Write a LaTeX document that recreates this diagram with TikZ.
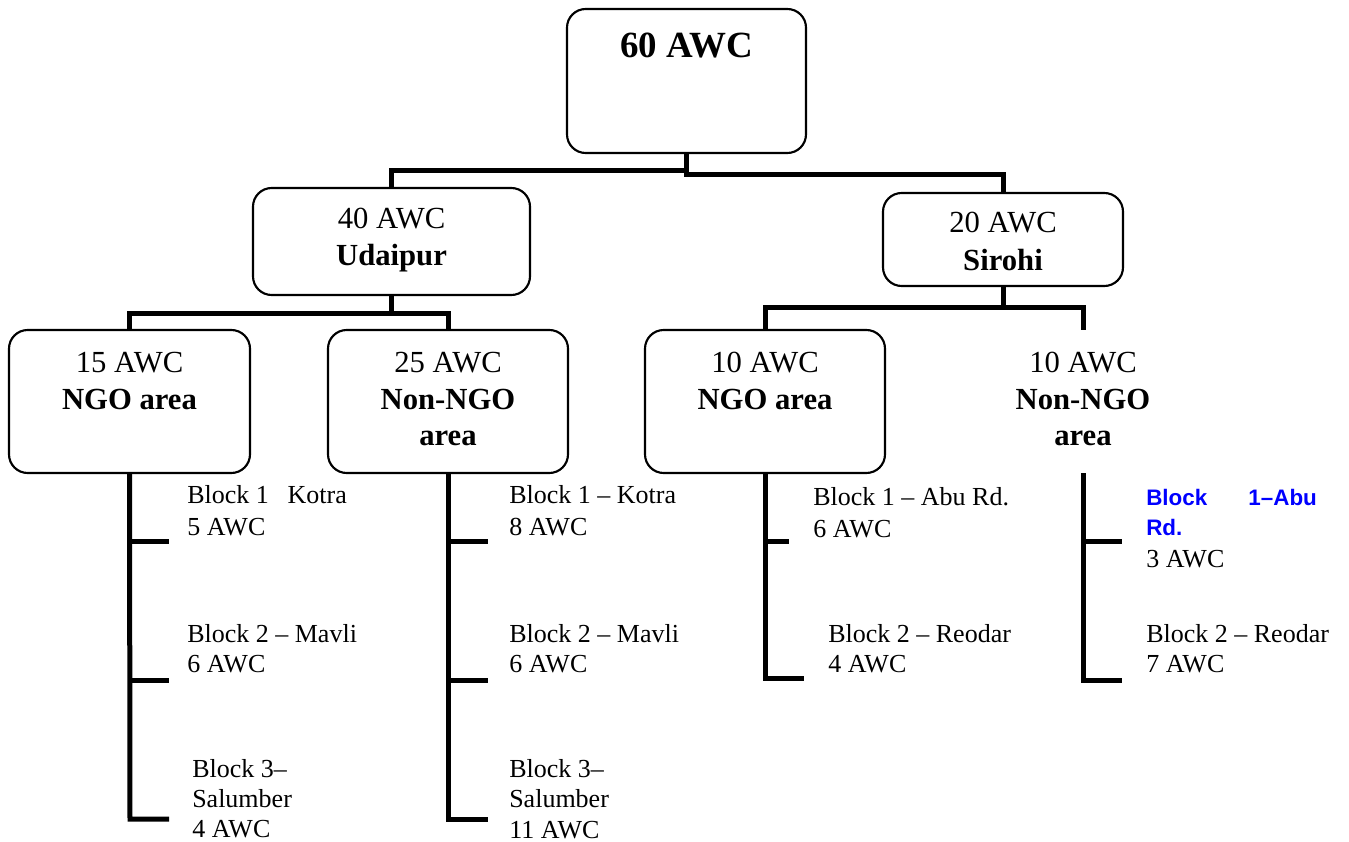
\documentclass[tikz,border=0pt]{standalone}
\usepackage{fontspec}
\setmainfont{Liberation Serif}
\newfontfamily\arialf{Liberation Sans}
\usetikzlibrary{fit}
\definecolor{linkblue}{RGB}{0,0,255}
\begin{document}
\begin{tikzpicture}[x=0.75pt,y=-0.75pt,
  box/.style={draw, line width=1.6pt, rounded corners=14pt, inner sep=0pt, rectangle},
  conn/.style={line width=3.75pt, line join=miter},
  bt/.style={anchor=base, inner sep=0pt, font=\fontsize{23}{28}\selectfont},
  btb/.style={anchor=base, inner sep=0pt, font=\fontsize{23}{28}\selectfont\bfseries},
  lt/.style={anchor=base west, inner sep=0pt, font=\fontsize{19.5}{23}\selectfont},
  bluetext/.style={anchor=base west, inner sep=0pt, text=linkblue, font=\arialf\bfseries\fontsize{16.8}{20}\selectfont}
]
\useasboundingbox (0,0) rectangle (1349,842);

% boxes
\node[box, fit={(567,9) (806,153)}] (top) {};
\node[box, fit={(253,188) (530,295)}] (udaipur) {};
\node[box, fit={(883,193) (1123,286)}] (sirohi) {};
\node[box, fit={(9,330) (250,473)}] (ngoU) {};
\node[box, fit={(328,330) (568,473)}] (nonU) {};
\node[box, fit={(645,330) (885,473)}] (ngoS) {};

% box texts
\node[anchor=base, inner sep=0pt, font=\fontsize{27.7}{32}\selectfont\bfseries] (t60) at (686.5,58) {60 AWC};
\node[bt] (t40) at (391.5,228) {40 AWC};
\node[btb] (tUd) at (391.5,265) {Udaipur};
\node[bt] (t20) at (1003,232) {20 AWC};
\node[btb] (tSi) at (1003,270) {Sirohi};
\node[bt] (t15) at (129.5,372) {15 AWC};
\node[btb] (t15b) at (129.5,409) {NGO area};
\node[bt] (t25) at (448,372) {25 AWC};
\node[btb] (t25b) at (448,409) {Non-NGO};
\node[btb] (t25c) at (448,445) {area};
\node[bt] (t10a) at (765,372) {10 AWC};
\node[btb] (t10ab) at (765,409) {NGO area};
\node[bt] (t10b) at (1083,372) {10 AWC};
\node[btb] (t10bb) at (1083,409) {Non-NGO};
\node[btb] (t10bc) at (1083,445) {area};

% junction coordinates
\coordinate (jTL) at (686.5,170.5);
\coordinate (jTR) at (686.5,174.5);
\coordinate (jU) at (391.5,313);
\coordinate (jS) at (1003,307);
\coordinate (nonStop) at (1083,330);
\coordinate (nonSbot) at (1083,473);

% upper connectors
\draw[conn] (top.south) -- (jTL) -| (udaipur.north);
\draw[conn] (top.south) -- (jTR) -| (sirohi.north);
\draw[conn] (udaipur.south) -- (jU) -| (ngoU.north);
\draw[conn] (jU) -| (nonU.north);
\draw[conn] (sirohi.south) -- (jS) -| (ngoS.north);
\draw[conn] (jS) -| (nonStop);

% column 1 (Udaipur NGO)
\coordinate (c1a) at (130,541); \coordinate (c1ae) at (169,541);
\coordinate (c1b) at (130,680); \coordinate (c1be) at (169,680);
\coordinate (c1c) at (130,819); \coordinate (c1ce) at (169,819);
\draw[conn] (ngoU.south) -- (c1c) -- (c1ce);
\draw[conn] (c1a) -- (c1ae);
\draw[conn] (c1b) -- (c1be);
\node[lt] (l1a) at (187,503) {Block 1\hspace{0.72em}Kotra};
\node[lt] (l1b) at (187,535) {5 AWC};
\node[lt] (l1c) at (187,642) {Block 2 -- Mavli};
\node[lt] (l1d) at (187,672) {6 AWC};
\node[lt] (l1e) at (192,777) {Block 3--};
\node[lt] (l1f) at (192,807) {Salumber};
\node[lt] (l1g) at (192,837) {4 AWC};

% column 2 (Udaipur Non-NGO)
\coordinate (c2a) at (448,541); \coordinate (c2ae) at (488,541);
\coordinate (c2b) at (448,680); \coordinate (c2be) at (488,680);
\coordinate (c2c) at (448,819); \coordinate (c2ce) at (488,819);
\draw[conn] (nonU.south) -- (c2c) -- (c2ce);
\draw[conn] (c2a) -- (c2ae);
\draw[conn] (c2b) -- (c2be);
\node[lt] (l2a) at (509,503) {Block 1 -- Kotra};
\node[lt] (l2b) at (509,535) {8 AWC};
\node[lt] (l2c) at (509,642) {Block 2 -- Mavli};
\node[lt] (l2d) at (509,672) {6 AWC};
\node[lt] (l2e) at (509,777) {Block 3--};
\node[lt] (l2f) at (509,807) {Salumber};
\node[lt] (l2g) at (509,838) {11 AWC};

% column 3 (Sirohi NGO)
\coordinate (c3a) at (765,541); \coordinate (c3ae) at (789,541);
\coordinate (c3b) at (765,678); \coordinate (c3be) at (804,678);
\draw[conn] (ngoS.south) -- (c3b) -- (c3be);
\draw[conn] (c3a) -- (c3ae);
\node[lt] (l3a) at (813,505) {Block 1 -- Abu Rd.};
\node[lt] (l3b) at (813,537) {6 AWC};
\node[lt] (l3c) at (828,642) {Block 2 -- Reodar};
\node[lt] (l3d) at (828,672) {4 AWC};

% column 4 (Sirohi Non-NGO)
\coordinate (c4a) at (1083,541); \coordinate (c4ae) at (1122,541);
\coordinate (c4b) at (1083,680); \coordinate (c4be) at (1122,680);
\draw[conn] (nonSbot) -- (c4b) -- (c4be);
\draw[conn] (c4a) -- (c4ae);
\node[bluetext] (l4a) at (1146,505) {\makebox[128pt][s]{Block\hfill 1–Abu}};
\node[bluetext] (l4b) at (1146,535) {Rd.};
\node[lt] (l4c) at (1146,567) {3 AWC};
\node[lt] (l4d) at (1146,642) {Block 2 -- Reodar};
\node[lt] (l4e) at (1146,672) {7 AWC};
\end{tikzpicture}
\end{document}
